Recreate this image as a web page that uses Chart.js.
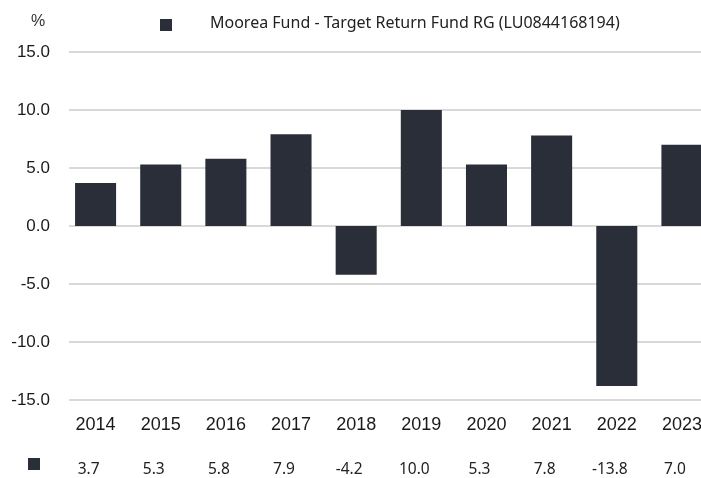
<!DOCTYPE html>
<html>
<head>
<meta charset="utf-8">
<script src="https://cdn.jsdelivr.net/npm/chart.js@4/dist/chart.umd.min.js"></script>
<style>
	html, body { margin: 0; padding: 0; background: #fff; overflow: hidden; }
	#wrap { width: 716px; height: 478px; }
</style>
</head>
<body>
<div id="wrap"><canvas id="chart-annual-returns"></canvas></div>
<script>
// Chart data
const YEARS = ["2014", "2015", "2016", "2017", "2018", "2019", "2020", "2021", "2022", "2023"];
const RETURNS = [3.7, 5.3, 5.8, 7.9, -4.2, 10.0, 5.3, 7.8, -13.8, 7.0];
const SERIES_NAME = "Moorea Fund - Target Return Fund RG (LU0844168194)";
const Y_MIN = -15;
const Y_MAX = 15;
const Y_STEP = 5;

const BAR_COLOR = "#2a2e38";
const GRID_COLOR = "#d9d9d9";
const TEXT_COLOR = "#1a1a1a";

// Grid lines, legend, unit label and value row
const extras = {
	id: "extras",
	beforeDatasetsDraw(chart) {
		const { ctx, chartArea, scales } = chart;
		ctx.save();
		ctx.strokeStyle = GRID_COLOR;
		ctx.lineWidth = 2;
		scales.y.ticks.forEach((t) => {
			const y = Math.round(scales.y.getPixelForValue(t.value));
			ctx.beginPath();
			ctx.moveTo(chartArea.left + 6, y);
			ctx.lineTo(chartArea.right, y);
			ctx.stroke();
		});
		ctx.restore();
	},
	afterDraw(chart) {
		const { ctx, scales } = chart;
		ctx.save();
		ctx.textBaseline = "middle";

		// unit
		ctx.fillStyle = "#333";
		ctx.font = "16px 'Liberation Sans', Arial, sans-serif";
		ctx.textAlign = "left";
		ctx.fillText("%", 31, 22);

		// legend
		ctx.fillStyle = BAR_COLOR;
		ctx.fillRect(160, 19, 12, 12);
		ctx.fillStyle = "#222";
		ctx.font = "16px 'Noto Sans', sans-serif";
		ctx.fillText(SERIES_NAME, 210, 23);

		// value row
		ctx.fillStyle = BAR_COLOR;
		ctx.fillRect(28, 458, 12, 12);
		ctx.fillStyle = "#222";
		ctx.font = "15.5px 'Noto Sans', sans-serif";
		ctx.textAlign = "center";
		RETURNS.forEach((v, i) => {
			const x = scales.x.getPixelForValue(i) - 7;
			ctx.fillText(v.toFixed(1), x, 470);
		});
		ctx.restore();
	},
};

const DATA = {
	labels: YEARS,
	datasets: [
		{
			label: SERIES_NAME,
			data: RETURNS,
			backgroundColor: BAR_COLOR,
			hoverBackgroundColor: BAR_COLOR,
			barPercentage: 0.63,
			categoryPercentage: 1,
		},
	],
};

const CONFIG = {
	type: "bar",
	data: DATA,
	options: {
		responsive: true,
		maintainAspectRatio: false,
		animation: false,
		layout: {
			padding: { top: 52, right: 1, bottom: 38, left: 0 },
		},
		elements: {
			bar: { borderWidth: 0 },
		},
		plugins: {
			legend: { display: false },
			title: { display: false },
			tooltip: { enabled: false },
		},
		scales: {
			x: {
				border: { display: false },
				grid: { display: false, drawTicks: false },
				ticks: {
					color: TEXT_COLOR,
					padding: 14,
					maxRotation: 0,
					autoSkip: false,
					font: { family: "'Liberation Sans', Arial, sans-serif", size: 18 },
				},
				afterFit(scale) {
					scale.height = 40;
				},
			},
			y: {
				min: Y_MIN,
				max: Y_MAX,
				border: { display: false },
				grid: { display: false, drawTicks: false },
				ticks: {
					stepSize: Y_STEP,
					color: TEXT_COLOR,
					padding: 13,
					font: { family: "'Liberation Sans', Arial, sans-serif", size: 17 },
					callback: (v) => Number(v).toFixed(1),
				},
				afterFit(scale) {
					scale.width = 63;
				},
			},
		},
	},
	plugins: [extras],
};

const WRAPPER = document.getElementById("chart-annual-returns");
if (WRAPPER) {
	new Chart(WRAPPER, CONFIG);
}
</script>
</body>
</html>
